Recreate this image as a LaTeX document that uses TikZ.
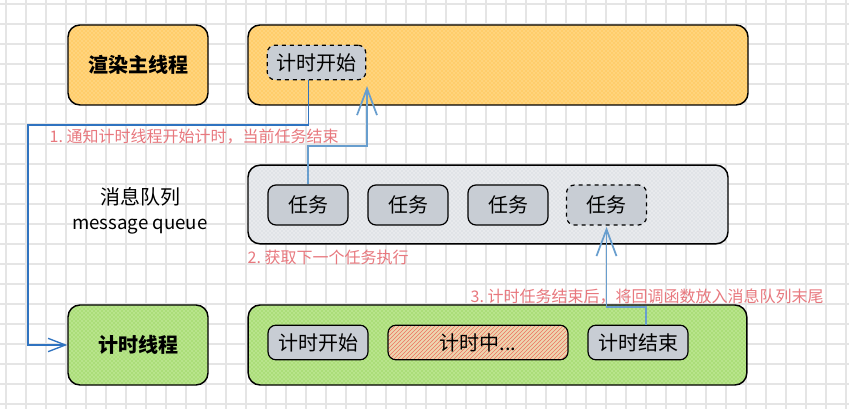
\documentclass[tikz,border=0pt]{standalone}
\usepackage{fontspec}
\setmainfont{Noto Sans CJK SC}
\usetikzlibrary{arrows.meta,patterns}
\definecolor{gridgray}{RGB}{229,229,229}
\definecolor{orangebase}{RGB}{255,212,125}
\definecolor{orangehatch}{RGB}{255,186,50}
\definecolor{greenbase}{RGB}{184,228,140}
\definecolor{greenhatch}{RGB}{130,200,60}
\definecolor{graybase}{RGB}{232,234,237}
\definecolor{grayhatch}{RGB}{200,205,212}
\definecolor{taskgray}{RGB}{200,205,212}
\definecolor{busybase}{RGB}{236,214,176}
\definecolor{busyhatch}{RGB}{238,115,95}
\definecolor{notered}{RGB}{232,120,126}
\definecolor{darkblue}{RGB}{47,115,192}
\definecolor{softblue}{RGB}{104,158,206}

\tikzset{
  gridline/.style={gridgray,line width=1.1pt},
  lane/.style={draw=black,line width=1.1pt,rounded corners=9pt,inner sep=0pt,
    font=\fontsize{15}{18}\selectfont},
  orangelane/.style={lane,preaction={fill=orangebase},pattern=crosshatch dots,pattern color=orangehatch},
  greenlane/.style={lane,preaction={fill=greenbase},pattern=crosshatch dots,pattern color=greenhatch},
  graylane/.style={lane,preaction={fill=graybase},pattern=crosshatch dots,pattern color=grayhatch},
  taskbox/.style={draw=black,line width=0.9pt,rounded corners=6pt,fill=taskgray,inner sep=0pt,
    minimum height=30pt,minimum width=60pt,font=\fontsize{15}{18}\selectfont},
  notetext/.style={notered,anchor=west,font=\fontsize{12}{14}\selectfont},
  arrow1/.style={darkblue,line width=1pt,-{Straight Barb[length=13pt,width=10pt]}},
  arrow2/.style={softblue,line width=1.3pt,-{Straight Barb[length=20pt,width=15pt]}}
}

\begin{document}
\begin{tikzpicture}[x=0.75pt,y=-0.75pt]
\useasboundingbox (0,0) rectangle (849,409);
\fill[white] (0,0) rectangle (849,409);

% background grid
\foreach \x in {6,26,...,846}{
  \draw[gridline] (\x,0) -- (\x,409);
}
\foreach \y in {4,24,...,404}{
  \draw[gridline] (0,\y) -- (849,\y);
}

% ===== render thread =====
\node[orangelane,minimum width=105pt,minimum height=60pt,font=\fontsize{15}{18}\selectfont\bfseries] (render) at (138,65) {渲染主线程};
\node[orangelane,minimum width=375pt,minimum height=60pt] (mainbar) at (498,65) {};
\node[taskbox,dashed,minimum width=74pt,minimum height=26pt] (tstart) at (316.5,62.5) {计时开始};

% ===== message queue =====
\node[font=\fontsize{15}{18}\selectfont] (qname) at (140,197) {消息队列};
\node[font=\fontsize{14}{16}\selectfont] (qname2) at (140,227) {message queue};
\node[graylane,minimum width=360pt,minimum height=59pt] (queue) at (488,204.5) {};
\node[taskbox] (task1) at (308,205) {任务};
\node[taskbox] (task2) at (408,205) {任务};
\node[taskbox] (task3) at (508,205) {任务};
\node[taskbox,dashed] (task4) at (606.5,205) {任务};

% ===== timer thread =====
\node[greenlane,minimum width=105pt,minimum height=60pt,font=\fontsize{15}{18}\selectfont\bfseries] (timer) at (138,345) {计时线程};
\node[greenlane,minimum width=374pt,minimum height=60pt] (timerbar) at (497.5,345) {};
\node[taskbox,minimum width=75pt,minimum height=26pt] (tbegin) at (318,342.5) {计时开始};
\node[taskbox,minimum width=135pt,minimum height=26pt,preaction={fill=busybase},pattern=north east lines,pattern color=busyhatch] (tbusy) at (478,342.5) {计时中...};
\node[taskbox,minimum width=75pt,minimum height=26pt] (tend) at (638,342.5) {计时结束};

% ===== steps =====
\coordinate (turn1) at (28,125);
\draw[arrow1] ([xshift=-6pt]tstart.south) |- (turn1) |- (timer.west);
\node[notetext] (step1) at (45,137) {1.~通知计时线程开始计时，当前任务结束};

\coordinate (bend2) at (367,146);
\coordinate (tip2) at (367,86);
\draw[arrow2] (task1.north) |- (bend2) -- (tip2);
\node[notetext] (step2) at (243,257) {2.~获取下一个任务执行};

\coordinate (bend3) at (606.5,307);
\draw[arrow2] ([xshift=6pt]tend.north) |- (bend3) -- ([yshift=-1pt]task4.south);
\node[notetext] (step3) at (466,297) {3.~计时任务结束后，将回调函数放入消息队列末尾};

\end{tikzpicture}
\end{document}
